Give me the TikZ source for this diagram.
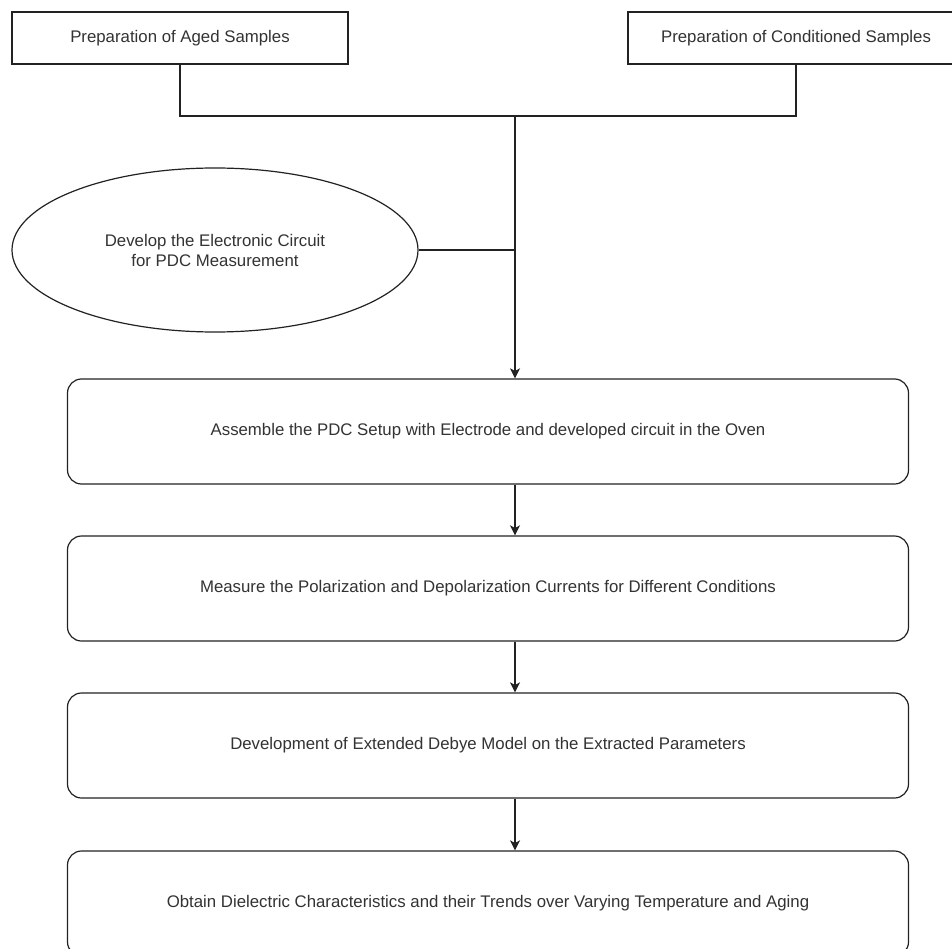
\documentclass[tikz,border=0pt]{standalone}
\usepackage{fontspec}
\setmainfont{Liberation Sans}
\usetikzlibrary{shapes.geometric,arrows.meta}
\definecolor{ink}{HTML}{222222}
\definecolor{txt}{HTML}{333333}
\tikzset{
  base/.style={draw=ink, line width=1.2pt, fill=white, text=txt, inner sep=0pt,
    font=\fontsize{16.8}{20}\selectfont, align=center},
  squarebox/.style={base, rectangle, minimum width=336pt, minimum height=52pt},
  roundbox/.style={base, rectangle, rounded corners=14pt, minimum width=841pt, minimum height=105pt},
  oval/.style={base, ellipse, minimum width=406pt, minimum height=164pt},
  link/.style={draw=ink, line width=1.2pt},
  arrow/.style={link, -{Stealth[length=10pt, width=10pt, inset=2.5pt]}}
}
\begin{document}
\begin{tikzpicture}[x=1pt, y=-1pt]
  \useasboundingbox (0,0) rectangle (952,949);
  \clip (0,0) rectangle (952,949);
  \fill[white] (0,0) rectangle (952,949);

  % sample preparation
  \node[squarebox] (aged) at (180,38) {Preparation of Aged Samples};
  \node[squarebox] (cond) at (796,38) {Preparation of Conditioned Samples};

  % circuit development
  \node[oval] (circ) at (215,250) {Develop the Electronic Circuit\\for PDC Measurement};

  % main process chain
  \node[roundbox] (setup)   at (488,431.5) {Assemble the PDC Setup with Electrode and developed circuit in the Oven};
  \node[roundbox] (measure) at (488,588.5) {Measure the Polarization and Depolarization Currents for Different Conditions};
  \node[roundbox] (model)   at (488,745.5) {Development of Extended Debye Model on the Extracted Parameters};
  \node[roundbox] (result)  at (488,903.5) {Obtain Dielectric Characteristics and their Trends over Varying Temperature and Aging};

  % joining of the inputs
  \coordinate (join) at (515,116);
  \draw[link] (aged.south) |- (join) -| (cond.south);
  \draw[link] (circ.east) -- (circ.east -| join);
  \draw[arrow] (join) -- (setup.north -| join);

  % chain arrows
  \draw[arrow] (setup.south -| join) -- (measure.north -| join);
  \draw[arrow] (measure.south -| join) -- (model.north -| join);
  \draw[arrow] (model.south -| join) -- (result.north -| join);
\end{tikzpicture}
\end{document}
